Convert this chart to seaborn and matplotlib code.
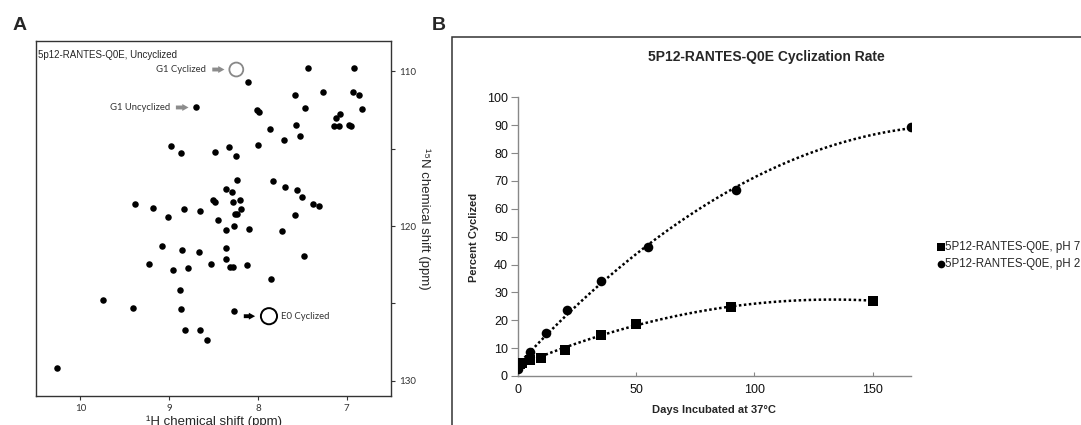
import numpy as np
import seaborn as sns
import pandas as pd
import matplotlib.pyplot as plt
from matplotlib.patches import Rectangle

# panel A: HSQC peak list (1H ppm, 15N ppm)
peak_h = [7.43, 6.917, 8.115, 7.27, 6.93, 7.578, 6.864, 8.693, 7.466, 6.83,
          8.006, 7.983, 7.075, 7.12, 7.138, 7.086, 6.973, 6.955, 7.567, 7.863,
          7.525, 7.702, 7.995, 8.329, 8.979, 8.866, 8.483, 8.246, 8.239, 7.826,
          7.694, 8.363, 7.559, 8.291, 7.507, 8.502, 8.483, 8.284, 8.205, 9.384,
          9.185, 8.832, 8.652, 7.375, 7.315, 8.186, 8.254, 8.235, 7.578, 9.009,
          8.445, 8.273, 8.359, 8.10, 7.732, 9.084, 8.851, 8.355, 8.663, 7.484,
          8.363, 9.23, 8.528, 8.952, 8.791, 8.31, 8.284, 8.125, 7.851, 8.877,
          9.741, 9.407, 8.866, 8.273, 8.821, 8.656, 8.573, 10.263]
peak_n = [109.81, 109.81, 110.69, 111.36, 111.36, 111.55, 111.55, 112.35, 112.39, 112.43,
          112.52, 112.67, 112.80, 113.01, 113.55, 113.55, 113.51, 113.55, 113.47, 113.72,
          114.20, 114.46, 114.76, 114.91, 114.82, 115.27, 115.21, 115.49, 117.0, 117.08,
          117.45, 117.58, 117.66, 117.81, 118.14, 118.33, 118.48, 118.46, 118.31, 118.57,
          118.81, 118.91, 119.0, 118.55, 118.68, 118.91, 119.24, 119.21, 119.28, 119.43,
          119.64, 119.97, 120.23, 120.20, 120.31, 121.26, 121.54, 121.39, 121.69, 121.93,
          122.10, 122.44, 122.42, 122.83, 122.70, 122.62, 122.62, 122.51, 123.41, 124.12,
          124.79, 125.26, 125.35, 125.46, 126.73, 126.73, 127.37, 129.18]

g1_cyc = (8.243, 109.9)
g1_uncyc = (8.693, 112.35)
e0_cyc = (7.875, 125.82)

# panel B: cyclization time course
days_73 = [0, 1, 2, 5, 10, 20, 35, 50, 90, 150]
pct_73 = [3.5, 4.3, 4.8, 5.8, 6.5, 9.2, 14.6, 18.7, 24.9, 27.0]
days_28 = [0, 2, 5, 12, 21, 35, 55, 92, 166]
pct_28 = [2.6, 4.8, 8.5, 15.6, 23.8, 34.1, 46.4, 66.6, 89.2]

sns.set_style('white')
plt.rcParams['font.family'] = ['Liberation Sans', 'DejaVu Sans']

W, H = 1081, 425
fig = plt.figure(figsize=(W / 100, H / 100), dpi=100)


def fx(px):
    return px / W


def fy(py):
    return 1 - py / H


# ---------------- panel A ----------------
axA = fig.add_axes([fx(36), fy(396), fx(391) - fx(36), fy(41) - fy(396)])
hsqc = pd.DataFrame({'H': peak_h, 'N': peak_n})
sns.scatterplot(data=hsqc, x='H', y='N', color='black', s=22, linewidth=0, ax=axA)
axA.set_xlim(10.5, 6.5)
axA.set_ylim(130.97, 108.06)
axA.yaxis.tick_right()
axA.set_yticks([110, 120, 130])
axA.set_yticks([115, 125], minor=True)
axA.set_xticks([10, 9, 8, 7])
axA.tick_params(axis='both', which='both', direction='out', length=3, width=0.8,
                colors='#333333', labelsize=7, pad=3, bottom=True, right=True, left=False)
for lab in axA.get_xticklabels() + axA.get_yticklabels():
    lab.set_fontfamily('Lato')
for sp in axA.spines.values():
    sp.set_color('#333333')
    sp.set_linewidth(1.0)

axA.set_xlabel('¹H chemical shift (ppm)', fontsize=9.5)
axA.xaxis.set_label_coords(0.5, -(422 - 396) / 355)
axA.xaxis.label.set_va('center')
axA.set_ylabel('¹⁵N chemical shift (ppm)', fontsize=9.5, rotation=270)
axA.yaxis.set_label_position('right')
axA.yaxis.set_label_coords((424 - 36) / 355, 0.5)
axA.yaxis.label.set_va('center')

axA.text(0.006, 0.974, '5p12-RANTES-Q0E, Uncyclized', transform=axA.transAxes,
         fontsize=7, va='top', ha='left')

axA.scatter([g1_cyc[0]], [g1_cyc[1]], s=100, facecolors='none', edgecolors='#888888', linewidths=1.3)
axA.scatter([e0_cyc[0]], [e0_cyc[1]], s=135, facecolors='none', edgecolors='black', linewidths=1.4)

arrow_style = 'simple,head_width=0.5,head_length=0.45,tail_width=0.28'
axA.annotate('', xy=(8.345, g1_cyc[1]), xytext=(8.545, g1_cyc[1]),
             arrowprops=dict(arrowstyle=arrow_style, color='#8c8c8c', lw=0))
axA.text(8.584, g1_cyc[1], 'G1 Cyclized', fontsize=6.8, ha='right', va='center',
         color='#333333', family='Lato')
axA.annotate('', xy=(8.75, g1_uncyc[1]), xytext=(8.955, g1_uncyc[1]),
             arrowprops=dict(arrowstyle=arrow_style, color='#8c8c8c', lw=0))
axA.text(8.985, g1_uncyc[1], 'G1 Uncyclized', fontsize=6.8, ha='right', va='center',
         color='#333333', family='Lato')
axA.annotate('', xy=(8.0, e0_cyc[1]), xytext=(8.19, e0_cyc[1]),
             arrowprops=dict(arrowstyle=arrow_style, color='black', lw=0))
axA.text(7.735, e0_cyc[1], 'E0 Cyclized', fontsize=6.8, ha='left', va='center',
         color='#333333', family='Lato')

fig.text(fx(20), fy(26), 'A', fontsize=14, fontweight='bold', ha='center', va='center')

# ---------------- panel B ----------------
fig.patches.append(Rectangle((fx(452), -0.1), 1.0, fy(37) + 0.1, transform=fig.transFigure,
                             fill=False, edgecolor='#333333', linewidth=1.1))
fig.text(fx(439), fy(26), 'B', fontsize=14, fontweight='bold', ha='center', va='center')

axB = fig.add_axes([fx(517.7), fy(376), fx(910.7) - fx(517.7), fy(97.3) - fy(376)])
line_kw = dict(ls=(0, (1, 1)), lw=1.8, color='black')
sns.regplot(x=days_73, y=pct_73, order=2, ci=None, marker='s', color='black',
            scatter_kws={'s': 42, 'linewidths': 0, 'zorder': 3, 'alpha': 1}, line_kws=line_kw,
            label='5P12-RANTES-Q0E, pH 7.3', ax=axB)
sns.regplot(x=days_28, y=pct_28, order=2, ci=None, marker='o', color='black',
            scatter_kws={'s': 48, 'linewidths': 0, 'zorder': 3, 'alpha': 1}, line_kws=line_kw,
            label='5P12-RANTES-Q0E, pH 2.8', ax=axB)
axB.set_xlim(0, 166)
axB.set_ylim(0, 100)
axB.set_xticks([0, 50, 100, 150])
axB.set_yticks(np.arange(0, 101, 10))
sns.despine(ax=axB)
for sp in ['left', 'bottom']:
    axB.spines[sp].set_color('#888888')
    axB.spines[sp].set_linewidth(1.0)
axB.tick_params(axis='y', direction='out', length=5, width=0.8, color='#888888',
                labelsize=9, pad=2, left=True, labelcolor='#111111')
axB.tick_params(axis='x', direction='in', length=3, width=0.8, color='#888888',
                labelsize=9, pad=6, bottom=True, labelcolor='#111111')
axB.set_xlabel('Days Incubated at 37°C', fontsize=8, fontweight='bold', labelpad=6)
axB.set_ylabel('Percent Cyclized', fontsize=8, fontweight='bold')
axB.yaxis.set_label_coords((474 - 517.7) / (910.7 - 517.7), (376 - 237) / (376 - 97.3))
axB.yaxis.label.set_va('center')

fig.text(fx(766), fy(57), '5P12-RANTES-Q0E Cyclization Rate', fontsize=10,
         fontweight='bold', ha='center', va='center')

handles, labels = axB.get_legend_handles_labels()
fig.legend(handles, labels, loc='upper left', bbox_to_anchor=(fx(938), fy(241)),
           frameon=False, fontsize=8.3, handletextpad=0.05, handlelength=0.55,
           borderaxespad=0, borderpad=0, labelspacing=0.45, markerscale=0.8)

fig.savefig('out.png', dpi=100)
